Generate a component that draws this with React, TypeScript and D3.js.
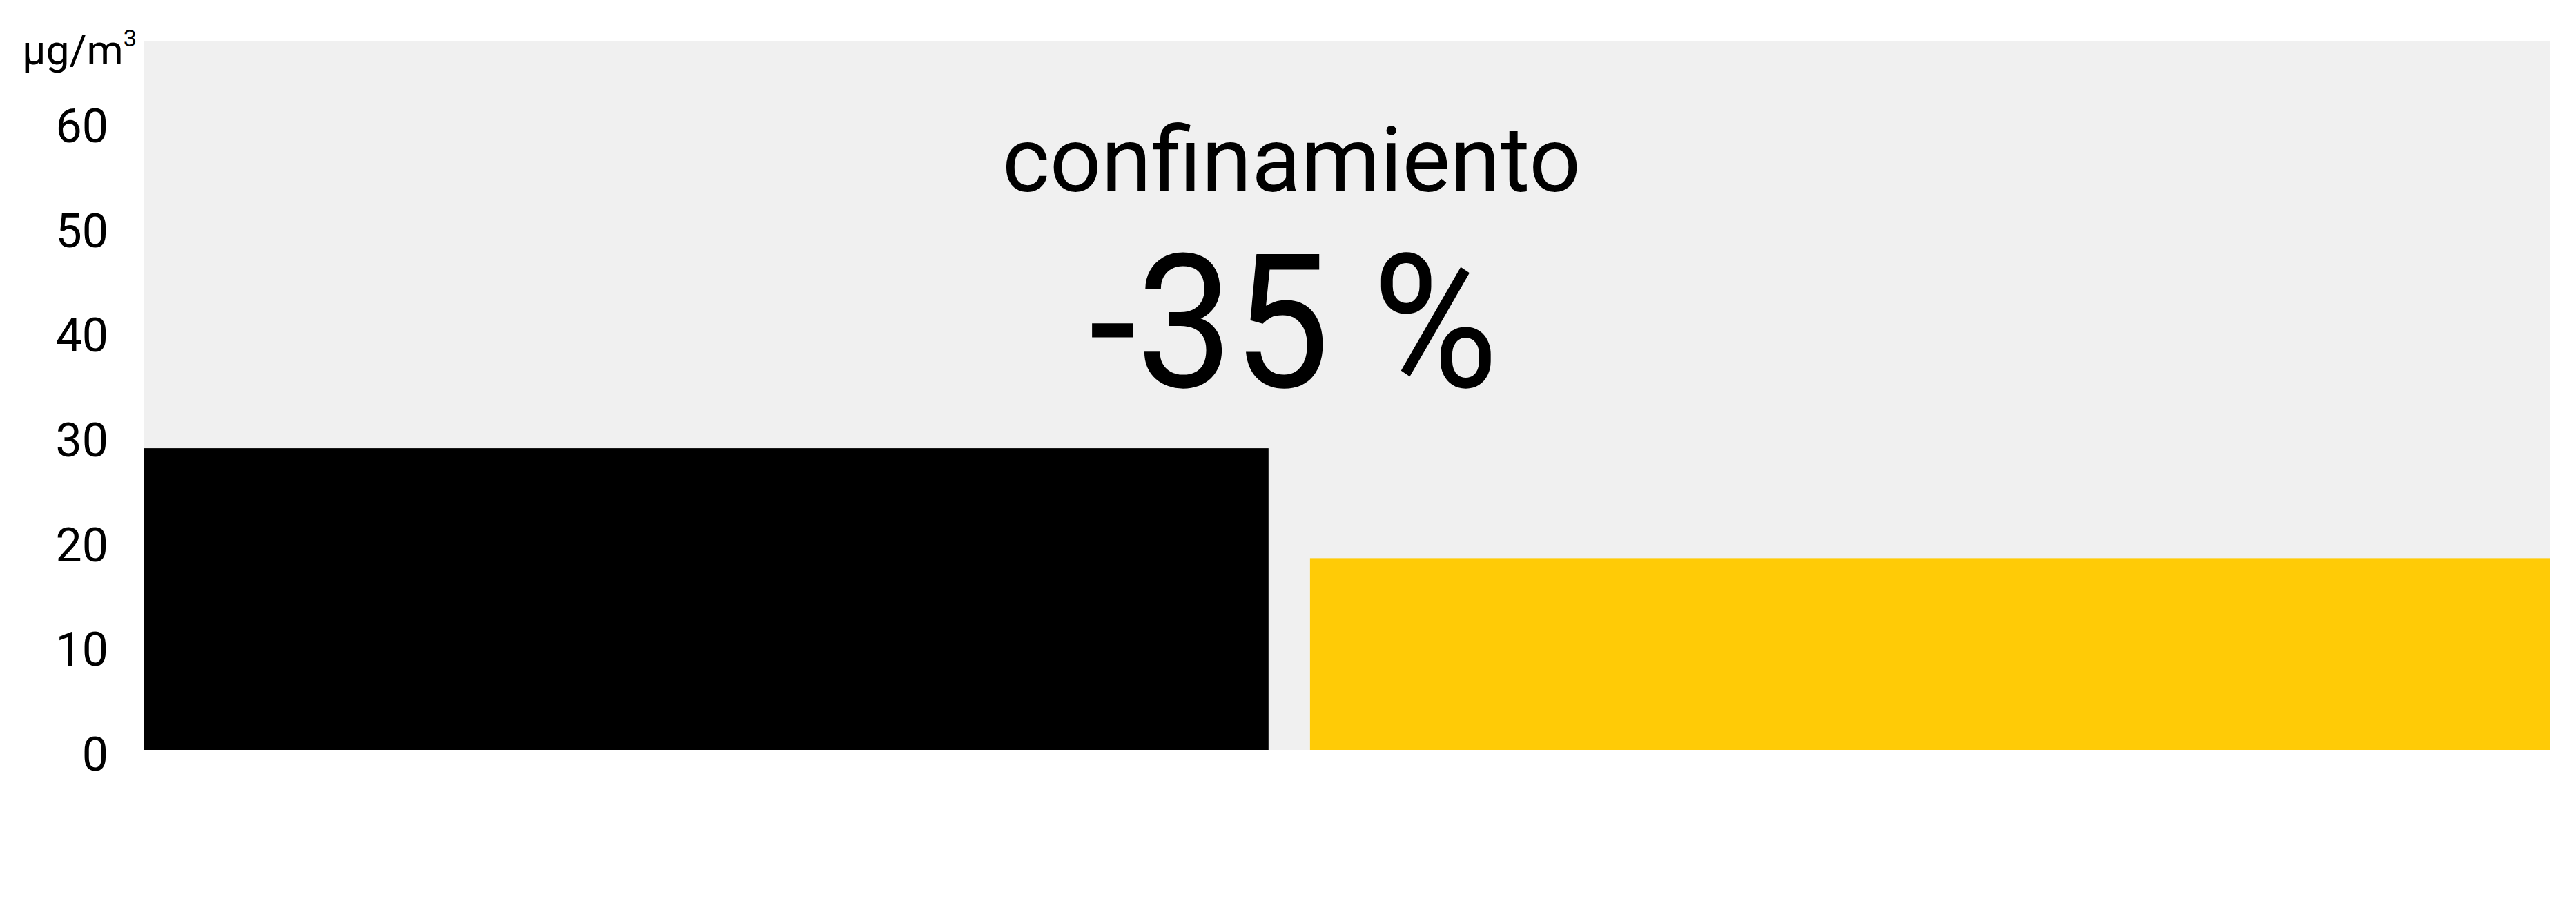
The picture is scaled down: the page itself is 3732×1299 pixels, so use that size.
import React from 'react';
import * as d3 from 'd3';

// period spans in days (from mid-February), bar heights in µg/m³
const periodNames = ['antes', 'confinamiento'];
const periodStartDay = [0, 28.1];
const periodEndDay = [27.1, 58];
const no2Values = [28.8, 18.3];
const barColors = ['#000000', '#ffcb06'];
const yTicks = [0, 10, 20, 30, 40, 50, 60];
const yMax = 67.7;
const unitBase = 'µg/m';
const unitSup = '3';
const titleText = 'confinamiento';
const changeText = '-35 %';

const W = 3732;
const H = 1299;
const margin = { top: 59, right: 37, bottom: 213, left: 209 };
const FONT = 'Roboto, "Noto Sans", sans-serif';

const App: React.FC = () => {
  const x = d3.scaleLinear()
    .domain([0, d3.max(periodEndDay)!])
    .range([margin.left, W - margin.right]);

  const y = d3.scaleLinear()
    .domain([0, yMax])
    .range([H - margin.bottom, margin.top]);

  const bars = periodNames.map((name, i) => ({
    name,
    x0: periodStartDay[i],
    x1: periodEndDay[i],
    value: no2Values[i],
    color: barColors[i],
  }));

  return (
    <svg
      width={W}
      height={H}
      style={{ position: 'absolute', left: 0, top: 0, background: '#fff' }}
    >
      {/* plot background */}
      <rect
        x={x.range()[0]}
        y={y.range()[1]}
        width={x.range()[1] - x.range()[0]}
        height={y.range()[0] - y.range()[1]}
        fill="#f0f0f0"
      />

      {/* bars */}
      {bars.map(b => (
        <rect
          key={b.name}
          x={x(b.x0)}
          y={y(b.value)}
          width={x(b.x1) - x(b.x0)}
          height={y(0) - y(b.value)}
          fill={b.color}
        />
      ))}

      {/* y tick labels */}
      {yTicks.map(t => (
        <text
          key={t}
          x={157}
          y={y(t) + 30}
          textAnchor="end"
          fontFamily={FONT}
          fontSize={68}
          fill="#000"
        >
          {t}
        </text>
      ))}

      {/* unit label */}
      <text
        x={198}
        y={93}
        textAnchor="end"
        fontFamily={FONT}
        fontSize={60}
        textLength={166}
        lengthAdjust="spacingAndGlyphs"
        fill="#000"
      >
        {unitBase}
        <tspan fontSize={34} dy={-26}>{unitSup}</tspan>
      </text>

      {/* annotation */}
      <text
        x={W / 2 + 5}
        y={277}
        textAnchor="middle"
        fontFamily={FONT}
        fontSize={131}
        textLength={838}
        lengthAdjust="spacingAndGlyphs"
        fill="#000"
      >
        {titleText}
      </text>
      <text
        x={W / 2 + 8}
        y={560}
        textAnchor="middle"
        fontFamily={FONT}
        fontSize={270}
        textLength={593}
        lengthAdjust="spacingAndGlyphs"
        fill="#000"
      >
        {changeText}
      </text>
    </svg>
  );
};

export default App;
